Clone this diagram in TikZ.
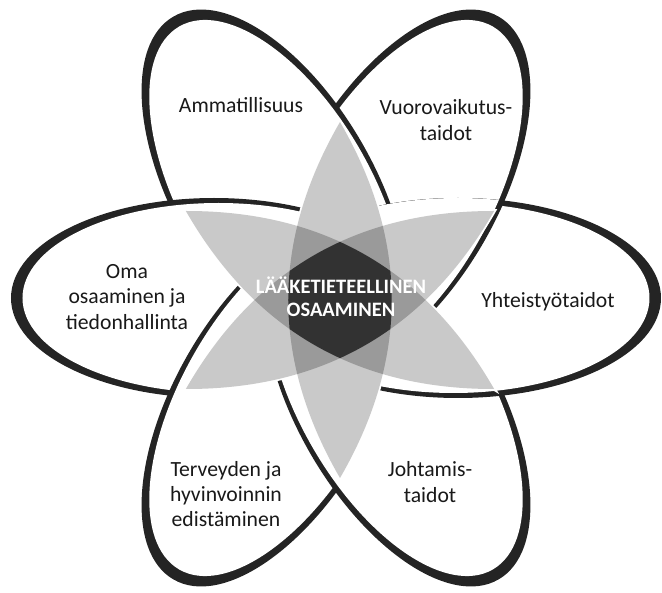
\documentclass[tikz,border=0pt]{standalone}
\usepackage{fontspec}
\setmainfont{Carlito}
\usepackage{tikz}

\definecolor{leafA}{RGB}{201,201,201}
\definecolor{leafB}{RGB}{154,154,154}
\definecolor{leafC}{RGB}{50,50,50}
\definecolor{rim}{RGB}{36,36,36}

\tikzset{
  leaf/.style={insert path={(-178,0) .. controls (-59,69) and (59,69) .. (178,0) .. controls (59,-69) and (-59,-69) .. cycle}},
  petal/.style={insert path={(122,0) ellipse [x radius=203, y radius=100]}},
  hole/.style={insert path={(117.5,0) ellipse [x radius=196, y radius=95]}},
  label/.style={font=\fontsize{18.5}{21.5}\selectfont, align=center, text=black!90},
}
\newcommand{\drawpetal}[1]{\fill[rim, rotate=#1, petal]; \fill[white, rotate=#1, hole];}

\begin{document}
\begin{tikzpicture}[x=0.3mm, y=0.3mm]
\useasboundingbox (-336,-295) rectangle (326,298);
% petals, each one lies over the next one clockwise
\foreach \a in {60,120,180,240,300,0} {\drawpetal{\a}}
\begin{scope}
\clip[petal];
\drawpetal{60}
\end{scope}
% grey leaves in the middle
\begin{scope}[shift={(4,-2)}]
\foreach \a in {30,90,150} \draw[white, line width=3pt, rotate=\a, leaf];
\foreach \a in {30,90,150} \fill[leafA, rotate=\a, leaf];
\begin{scope}
\clip[rotate=30, leaf];
\fill[leafB, rotate=90, leaf]; \fill[leafB, rotate=150, leaf];
\end{scope}
\begin{scope}
\clip[rotate=90, leaf];
\fill[leafB, rotate=150, leaf];
\end{scope}
\begin{scope}
\clip[rotate=30, leaf]; \clip[rotate=90, leaf];
\fill[leafC, rotate=150, leaf];
\end{scope}
\end{scope}
% texts
\node[label] (amm) at (-95,193) {Ammatillisuus};
\node[label] (vuoro) at (110,178) {Vuorovaikutus-\\taidot};
\node[label] (oma) at (-209,1) {Oma\\osaaminen ja\\tiedonhallinta};
\node[label] (yht) at (212,-4) {Yhteistyötaidot};
\node[label] (terv) at (-110,-196) {Terveyden ja\\hyvinvoinnin\\edistäminen};
\node[label] (joht) at (94,-184) {Johtamis-\\taidot};
\node[font=\bfseries\fontsize{17.5}{20}\selectfont, align=center, text=white] (core) at (5,1) {LÄÄKETIETEELLINEN\\OSAAMINEN};
\end{tikzpicture}
\end{document}
